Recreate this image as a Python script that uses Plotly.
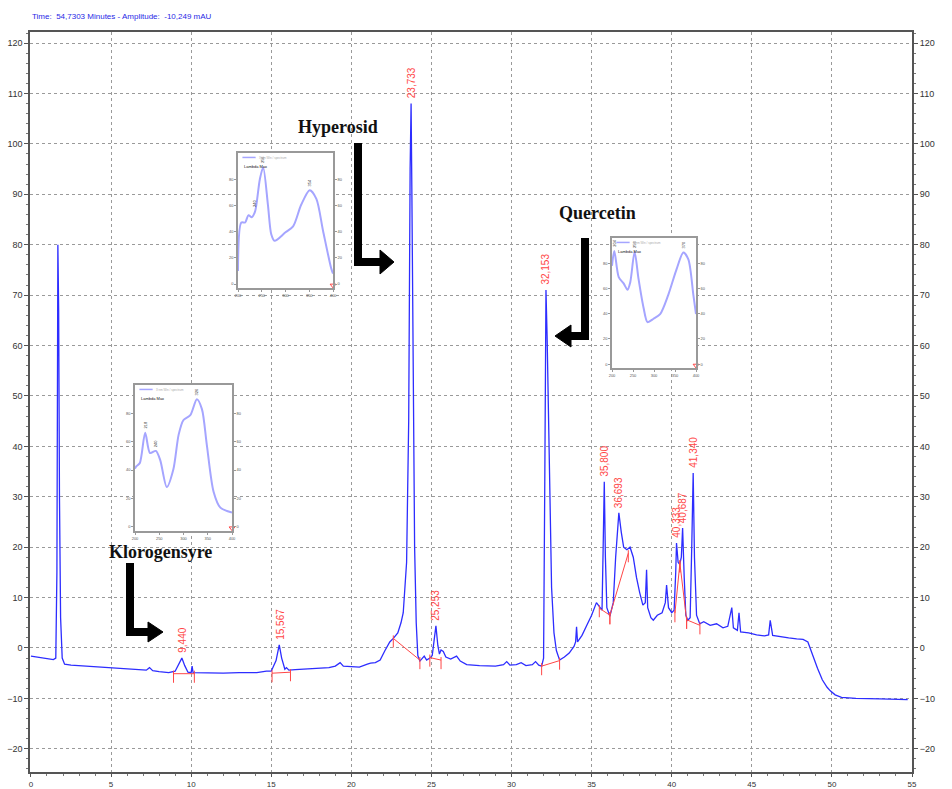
import plotly.graph_objects as go

# ---------------- main chromatogram data (time in minutes, amplitude in mAU) ----------------
time_min = [0.0, 0.5, 1.0, 1.4, 1.55, 1.62, 1.68, 1.73, 1.78, 1.85, 1.95, 2.1, 2.5, 3.0, 3.7, 4.5, 5.5, 6.5,
            7.2, 7.4, 7.6, 8.0, 8.6, 9.0, 9.25, 9.42, 9.6, 9.8, 10.0, 10.06, 10.12, 11.0, 12.0, 13.0, 14.1,
            14.7, 15.0, 15.3, 15.5, 15.65, 15.85, 15.95, 16.1, 16.5, 17.0, 18.0, 18.6, 19.0, 19.3, 19.5,
            20.0, 20.5, 21.0, 21.2, 21.5, 21.8, 22.1, 22.4, 22.62, 22.9, 23.1, 23.24, 23.45, 23.58, 23.67,
            23.73, 23.78, 23.86, 23.95, 24.05, 24.15, 24.28, 24.4, 24.55, 24.7, 24.9, 25.05, 25.18, 25.28,
            25.4, 25.5, 25.6, 25.74, 25.9, 26.2, 26.57, 26.8, 27.2, 28.0, 29.0, 29.5, 29.7, 29.9, 30.3,
            30.6, 30.9, 31.3, 31.5, 31.7, 31.88, 32.0, 32.08, 32.15, 32.22, 32.35, 32.5, 32.65, 32.8, 33.0,
            33.3, 33.6, 33.9, 34.0, 34.06, 34.12, 34.4, 34.7, 35.0, 35.3, 35.5, 35.65, 35.72, 35.79, 35.86,
            35.95, 36.14, 36.35, 36.5, 36.7, 36.85, 37.0, 37.2, 37.4, 37.6, 37.8, 38.0, 38.2, 38.35, 38.43,
            38.5, 38.7, 38.85, 39.1, 39.4, 39.6, 39.68, 39.8, 40.0, 40.15, 40.25, 40.3, 40.4, 40.5, 40.6,
            40.68, 40.78, 40.88, 41.0, 41.15, 41.25, 41.34, 41.42, 41.55, 41.75, 42.0, 42.4, 42.8, 43.2,
            43.5, 43.75, 43.85, 44.1, 44.2, 44.3, 44.8, 45.3, 45.8, 46.05, 46.15, 46.3, 46.8, 47.3, 47.8,
            48.2, 48.5, 48.8, 49.1, 49.4, 49.7, 49.9, 50.2, 50.6, 51.5, 53.0, 54.73]
amp_mau = [-1.6, -1.8, -2.0, -2.3, -2.0, 15, 80, 67, 30, 6, -2, -3.2, -3.4, -3.5, -3.6, -3.8, -4.1, -4.3,
           -4.4, -3.9, -4.5, -4.7, -4.9, -4.6, -3.2, -2.0, -3.5, -4.8, -4.9, -3.6, -4.9, -5.0, -5.0, -4.9, -4.9,
           -4.6, -4.6, -2.5, 0.6, -2.0, -4.2, -3.9, -4.4, -4.3, -4.2, -4.1, -3.9, -3.6, -2.9, -3.6,
           -3.7, -3.8, -3.2, -3.0, -2.9, -2.4, -0.5, 1.2, 1.9, 3.0, 5.0, 7.0, 17, 45, 95,
           108, 90, 50, 20, 5, -1.5, -2.6, -2.2, -1.6, -2.4, -2.0, -1.5, 2.0, 4.4,
           0.5, -1.2, -0.4, -0.7, -1.8, -2.2, -1.6, -2.6, -3.3, -3.5, -3.6, -3.3, -2.7, -3.4, -3.3,
           -2.9, -3.5, -3.3, -2.7, -3.4, -3.6, -2.0, 35, 71, 62, 35, 12, 3, -0.5, -2.4,
           -1.8, -1.0, 0.3, 1.2, 4.2, 1.2, 2.5, 4.5, 6.5, 9.0, 8.0, 7.5, 20, 33, 18,
           8, 6.3, 9, 18, 26.8, 23, 20, 19.5, 20, 18, 14, 11, 8.5, 9, 15.5,
           8, 6, 5.5, 6.5, 7, 9, 12.5, 8, 7, 7.5, 15, 20.8, 17, 16.6, 18,
           23.8, 14, 6.5, 5.5, 6, 20, 34.7, 18, 6.5, 4.8, 5.2, 4.5, 4.8, 4.0,
           4.3, 8, 4, 3.5, 7, 3.2, 3.0, 2.6, 2.4, 2.6, 5.5, 2.5, 2.2, 2.0, 1.8,
           1.7, 1.2, -1.5, -4.0, -6.3, -7.8, -8.5, -9.3, -9.8, -10.0, -10.1, -10.25]

# integrated peaks
peak_times = [9.440, 15.567, 23.733, 25.253, 32.153, 35.800, 36.693, 40.333, 40.687, 41.340]
peak_heights = [-2.0, 0.6, 108, 4.4, 71, 33, 26.8, 20.8, 23.8, 34.7]
peak_labels = ["9,440", "15,567", "23,733", "25,253", "32,153", "35,800", "36,693", "40,333", "40,687", "41,340"]

# integration baselines (start/end time, start/end amplitude)
base_t0 = [8.9, 15.05, 22.62, 24.9, 31.88, 35.48, 36.14, 40.2, 40.51, 40.93]
base_v0 = [-5.1, -5.0, 1.9, -1.9, -3.6, 7.9, 6.5, 6.9, 16.8, 5.6]
base_t1 = [10.2, 16.2, 24.28, 25.6, 33.0, 36.14, 37.29, 40.51, 40.93, 41.76]
base_v1 = [-5.1, -4.8, -2.4, -2.4, -2.5, 6.5, 18.8, 16.8, 5.6, 4.5]

# UV spectra of the identified compounds (wavelength nm, relative absorbance)
hyp_wl = [200, 207, 215, 222, 229, 236, 246, 253, 263, 270, 277, 300, 316, 333, 351, 365, 379, 396, 400]
hyp_abs = [10, 47, 47, 52.6, 51, 55.5, 80, 89, 60.5, 38, 33, 39.5, 44, 60.5, 71.6, 65, 40.7, 12.3, 8]
klo_wl = [200, 203, 210, 221, 231, 243, 252, 265.5, 279, 290, 300, 314, 327.6, 338, 348, 362, 376, 400]
klo_abs = [41, 42.7, 45, 66.3, 52, 53.5, 47, 28, 40.4, 65, 75.3, 78.7, 90, 83, 58, 24.7, 13.5, 10]
que_wl = [200, 205.5, 216, 227.7, 237, 243.5, 253.8, 263, 275, 284.6, 298.8, 314.6, 334, 354, 370, 381.8, 393.7, 400]
que_abs = [78, 89.7, 69, 64, 59, 65, 89, 68, 45, 33.3, 36, 39.7, 55, 75.6, 88.5, 83, 55, 39.7]
spectrum_max_labels = [["240", "256", "354"], ["218", "240", "326"], ["204", "256", "370"]]
spectrum_max_wl = [[236, 253, 351], [221, 243, 327.6], [205.5, 253.8, 370]]
spectrum_max_abs = [[55.5, 89, 71.6], [66.3, 53.5, 90], [89.7, 89, 88.5]]

compound_names = ["Hyperosid", "Quercetin", "Klorogensyre"]

# ---------------- layout geometry helpers ----------------
W, H = 952, 789
L, R, T, B = 30, 912, 32, 772   # plot-area edges in window pixels


def px(x):
    return (x - L) / (R - L)


def py(y):
    return (B - y) / (B - T)


BLUE = "rgb(45,45,255)"
RED = "rgb(255,70,70)"
TICKFONT = dict(family="Liberation Sans, Arial, sans-serif", size=9, color="#333")

fig = go.Figure()

fig.add_trace(go.Scatter(x=time_min, y=amp_mau, mode="lines", line=dict(color=BLUE, width=1.3),
                         showlegend=False, hoverinfo="skip"))
# invisible trace for the right-side axis
fig.add_trace(go.Scatter(x=time_min[:2], y=amp_mau[:2], yaxis="y2", mode="none", showlegend=False,
                         hoverinfo="skip"))

# red integration baselines + tick marks
bx, by = [], []
for t0, v0, t1, v1 in zip(base_t0, base_v0, base_t1, base_v1):
    bx += [t0, t1, None, t0, t0, None, t1, t1, None]
    by += [v0, v1, None, v0 + 0.6, v0 - 1.8, None, v1 + 0.6, v1 - 1.8, None]
fig.add_trace(go.Scatter(x=bx, y=by, mode="lines", line=dict(color=RED, width=1),
                         showlegend=False, hoverinfo="skip"))

annotations = []
for t, h, lab in zip(peak_times, peak_heights, peak_labels):
    annotations.append(dict(x=t, y=h, xref="x", yref="y", text=lab, textangle=-90, showarrow=False,
                            xanchor="center", yanchor="bottom", yshift=3,
                            font=dict(family="Liberation Sans, Arial, sans-serif", size=10, color=RED)))

annotations.append(dict(x=0, y=py(16), xref="paper", yref="paper", xanchor="left", yanchor="middle",
                        showarrow=False, text="Time:  54,7303 Minutes - Amplitude:  -10,249 mAU",
                        font=dict(family="Liberation Sans, Arial, sans-serif", size=8, color="rgb(40,40,230)")))

# compound names
name_pos = [(338, 127), (597, 213), (160, 552)]
for name, (nx, ny) in zip(compound_names, name_pos):
    annotations.append(dict(x=px(nx), y=py(ny), xref="paper", yref="paper", showarrow=False,
                            xanchor="center", yanchor="middle", text="<b>%s</b>" % name,
                            font=dict(family="Liberation Serif, Times New Roman, serif", size=18, color="#111")))

shapes = []
# L-shaped black arrows: (vertical x, top y, corner y, bar end x, tip x, half head)
arrows = [(358, 143, 262, 380, 394, 12), (585, 238, 336, 571, 555, 11), (130, 563, 632, 148, 163, 10)]
for vx, ty, cy, ex, tipx, hh in arrows:
    shapes.append(dict(type="path", xref="paper", yref="paper",
                       path="M %f,%f L %f,%f L %f,%f" % (px(vx), py(ty), px(vx), py(cy), px(ex), py(cy)),
                       line=dict(color="black", width=8)))
    shapes.append(dict(type="path", xref="paper", yref="paper",
                       path="M %f,%f L %f,%f L %f,%f Z" % (px(ex), py(cy - hh), px(tipx), py(cy), px(ex), py(cy + hh)),
                       fillcolor="black", line=dict(color="black", width=1)))

layout = dict(
    width=W, height=H,
    margin=dict(l=L, r=W - R, t=T, b=H - B, autoexpand=False),
    paper_bgcolor="white", plot_bgcolor="white", showlegend=False,
    xaxis=dict(domain=[0, 1], range=[-0.06, 55.0], tickvals=list(range(0, 56, 5)),
               tickfont=dict(family="Liberation Sans, Arial, sans-serif", size=8, color="#333"),
               showgrid=True, gridcolor="#9a9a9a", griddash="dot", gridwidth=1, zeroline=False,
               showline=True, linecolor="#555", linewidth=2, mirror=True, ticks="outside", ticklen=3,
               tickcolor="#555", minor=dict(dtick=1, ticks="outside", ticklen=2, tickcolor="#777"),
               automargin=False),
    yaxis=dict(domain=[0, 1], range=[-24.6, 122.2], tickvals=list(range(-20, 121, 10)), tickfont=TICKFONT,
               showgrid=True, gridcolor="#9a9a9a", griddash="dot", gridwidth=1, zeroline=False,
               showline=True, linecolor="#555", linewidth=1.5, ticks="outside", ticklen=4, tickcolor="#555",
               minor=dict(dtick=2, ticks="outside", ticklen=2, tickcolor="#777"), automargin=False),
    yaxis2=dict(overlaying="y", side="right", anchor="x", range=[-24.6, 122.2], tickvals=list(range(-20, 121, 10)),
                tickfont=TICKFONT, showgrid=False, zeroline=False, showline=True, linecolor="#555", linewidth=2,
                ticks="outside", ticklen=4, tickcolor="#555",
                minor=dict(dtick=2, ticks="outside", ticklen=2, tickcolor="#777"), automargin=False),
)

# ---------------- inset spectra ----------------
insets = [
    (3, (238, 333, 153, 288), hyp_wl, hyp_abs, 0),
    (5, (135, 232, 385, 531), klo_wl, klo_abs, 1),
    (7, (612, 696, 238, 368), que_wl, que_abs, 2),
]
SPEC = "rgb(165,165,255)"
IFONT = dict(family="Liberation Sans, Arial, sans-serif", size=4, color="#555")
for n, (x0, x1, y0, y1), wl, ab, k in insets:
    layout["xaxis%d" % n] = dict(domain=[px(x0), px(x1)], anchor="y%d" % n, range=[200, 400],
                                 tickvals=[200, 250, 300, 350, 400], tickfont=IFONT, showgrid=False, zeroline=False,
                                 showline=True, linecolor="#999", linewidth=1.5, mirror=True, ticks="outside",
                                 ticklen=2, tickcolor="#999", automargin=False)
    layout["yaxis%d" % n] = dict(domain=[py(y1), py(y0)], anchor="x%d" % n, range=[-3, 100],
                                 tickvals=[0, 20, 40, 60, 80], tickfont=IFONT, showgrid=False, zeroline=False,
                                 showline=True, linecolor="#999", linewidth=1.5, ticks="outside", ticklen=2,
                                 tickcolor="#999", automargin=False)
    layout["yaxis%d" % (n + 1)] = dict(overlaying="y%d" % n, side="right", anchor="x%d" % n, range=[-3, 100],
                                       tickvals=[0, 20, 40, 60, 80], tickfont=IFONT, showgrid=False, zeroline=False,
                                       showline=True, linecolor="#999", linewidth=1.5, ticks="outside", ticklen=2,
                                       tickcolor="#999", automargin=False)
    fig.add_trace(go.Scatter(x=wl, y=ab, xaxis="x%d" % n, yaxis="y%d" % n, mode="lines",
                             line=dict(color=SPEC, width=2, shape="spline", smoothing=0.8),
                             showlegend=False, hoverinfo="skip"))
    fig.add_trace(go.Scatter(x=wl[:2], y=ab[:2], xaxis="x%d" % n, yaxis="y%d" % (n + 1), mode="none",
                             showlegend=False, hoverinfo="skip"))
    # red end marker
    fig.add_trace(go.Scatter(x=[wl[-1]], y=[-1], xaxis="x%d" % n, yaxis="y%d" % n, mode="markers",
                             marker=dict(symbol="triangle-down-open", size=5, color=RED),
                             showlegend=False, hoverinfo="skip", cliponaxis=False))
    for lab, w, a in zip(spectrum_max_labels[k], spectrum_max_wl[k], spectrum_max_abs[k]):
        annotations.append(dict(x=w, y=a, xref="x%d" % n, yref="y%d" % n, text=lab, textangle=-90,
                                showarrow=False, yanchor="bottom", yshift=2,
                                font=dict(family="Liberation Sans, Arial, sans-serif", size=4, color="#333")))
    annotations.append(dict(x=px(x0) + 0.004, y=py(y0) - 0.012, xref="paper", yref="paper", text="Lambda Max",
                            showarrow=False, xanchor="left", yanchor="top",
                            font=dict(family="Liberation Sans, Arial, sans-serif", size=4, color="#111")))
    annotations.append(dict(x=px(x0) + 0.022, y=py(y0) - 0.002, xref="paper", yref="paper",
                            text="3 nm Win / spectrum", showarrow=False, xanchor="left", yanchor="top",
                            font=dict(family="Liberation Sans, Arial, sans-serif", size=3, color="#aaa")))
    shapes.append(dict(type="line", xref="paper", yref="paper", x0=px(x0) + 0.005, x1=px(x0) + 0.02,
                       y0=py(y0) - 0.006, y1=py(y0) - 0.006, line=dict(color=SPEC, width=1.5)))

layout["annotations"] = annotations
layout["shapes"] = shapes
fig.update_layout(**layout)

# place the figure flush with the window (remove the default page margin), no mode bar
fig.write_html("out.html", config={"displayModeBar": False},
               post_script="document.body.style.margin='0';document.body.style.overflow='hidden';")
